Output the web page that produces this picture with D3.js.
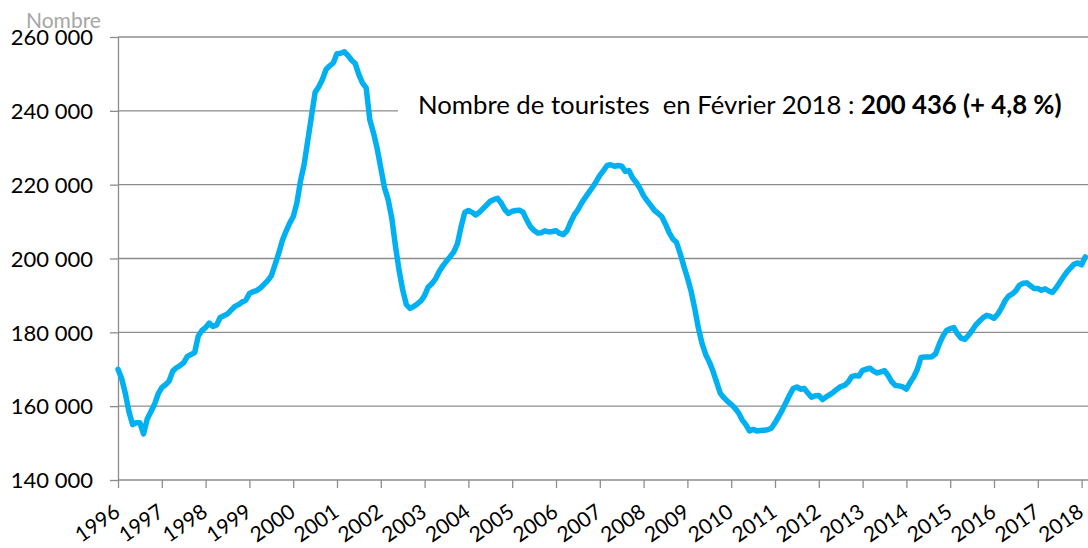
<!DOCTYPE html>
<html>
<head>
<meta charset="utf-8">
<script src="https://cdn.jsdelivr.net/npm/d3@7"></script>
<style>
body{margin:0;background:#fff}
svg{display:block}
text{font-family:Lato,"Open Sans",sans-serif}
</style>
</head>
<body>
<svg id="chart" width="1088" height="548"></svg>
<script>
// x ticks: one label per January
const yearLabels = ["1996","1997","1998","1999","2000","2001","2002","2003","2004","2005","2006",
                    "2007","2008","2009","2010","2011","2012","2013","2014","2015","2016","2017","2018"];
const yTicks = [140000,160000,180000,200000,220000,240000,260000];

// monthly tourists, Jan 1996 -> Feb 2018 (one row per year)
const touristes = [
  170000,167500,163500,158500,155000,155500,155500,152500,156500,158500,160500,163300, // 1996
  165000,165800,166800,169500,170400,171000,171800,173500,174000,174500,179000,180500, // 1997
  181300,182500,181600,182000,184000,184500,185000,186000,187000,187500,188200,188700, // 1998
  190500,191000,191300,192000,193000,194000,195300,198300,201300,204800,207300,209500, // 1999
  211300,215000,221000,225500,232000,238500,245000,246500,248500,251200,252200,253000, // 2000
  255500,255600,256000,255000,253700,252800,249800,247500,246200,237500,234000,229800, // 2001
  224500,219200,216000,211000,203500,196800,191500,187500,186500,187000,187700,188500, // 2002
  190000,192300,193200,194500,196500,198000,199300,200500,201800,204000,208600,212500, // 2003
  213000,212500,211800,212500,213500,214500,215500,216000,216300,215000,213200,212200, // 2004
  212800,213000,213100,212500,210400,208600,207600,206900,207000,207500,207200,207300, // 2005
  207500,206800,206500,207500,209800,211800,213200,215000,216500,217900,219300,220800, // 2006
  222500,223800,225200,225400,225000,225200,225000,223600,223800,221800,220600,219000, // 2007
  217000,215600,214300,213000,212200,211300,209300,207000,205300,204400,201400,198000, // 2008
  194800,191200,186500,181200,177000,174000,172000,169500,166500,163500,162300,161300, // 2009
  160500,159500,158200,156300,155000,153300,153700,153300,153400,153500,153600,154000, // 2010
  155500,157200,159000,161000,163000,164800,165200,164600,164800,163600,162400,162800, // 2011
  162900,161800,162500,163100,163800,164600,165300,165600,166500,168000,168300,168200, // 2012
  169700,170000,170300,169500,169000,169300,169600,168300,166600,165600,165500,165200, // 2013
  164600,166400,167900,170000,173200,173300,173300,173400,174200,176800,179000,180500, // 2014
  181000,181300,179600,178400,178100,179200,180500,182000,183000,184000,184600,184300, // 2015
  183800,184900,186500,188500,189800,190400,191300,192800,193300,193400,192600,191900, // 2016
  191900,191400,191800,191200,190800,192000,193500,195000,196400,197500,198500,198800, // 2017
  198300,200436                                                                        // 2018
];

const annotationText = "Nombre de touristes  en Février 2018 : ";
const annotationValue = "200 436 (+ 4,8 %)";

const svg = d3.select("#chart");
const plotLeft = 118, plotRight = 1088, plotTop = 37, plotBottom = 480;

const x = d3.scaleLinear().domain([0, touristes.length - 1])
  .range([plotLeft, plotLeft + 3.65 * (touristes.length - 1)]);
const y = d3.scaleLinear().domain([140000, 260000]).range([plotBottom, plotTop]);

const fr = d3.formatLocale({decimal: ",", thousands: " ", grouping: [3], currency: ["", ""]});
const fmt = fr.format(",");

// gridlines
svg.append("g")
  .selectAll("line")
  .data(yTicks)
  .enter()
  .append("line")
  .attr("x1", plotLeft)
  .attr("x2", plotRight)
  .attr("y1", d => y(d))
  .attr("y2", d => y(d))
  .style("stroke", "#8c8c8c")
  .style("stroke-width", 1.3);

// y axis
const yAxis = svg.append("g")
  .attr("transform", "translate(" + plotLeft + ",0)")
  .call(d3.axisLeft(y).tickValues(yTicks).tickSize(8).tickSizeOuter(0).tickFormat(fmt));
yAxis.select(".domain").style("stroke", "#8c8c8c").style("stroke-width", 1.3);
yAxis.selectAll(".tick line").style("stroke", "#8c8c8c").style("stroke-width", 1.3);
yAxis.selectAll(".tick text")
  .attr("x", -25)
  .attr("dy", "0.35em")
  .style("font-size", "22px")
  .style("fill", "#000");

// x axis
const xAxis = svg.append("g")
  .attr("transform", "translate(0," + plotBottom + ")")
  .call(d3.axisBottom(x).tickValues(d3.range(0, touristes.length, 12)).tickSize(8).tickSizeOuter(0)
        .tickFormat((d, i) => yearLabels[i]));
xAxis.select(".domain").remove();
xAxis.selectAll(".tick line").style("stroke", "#8c8c8c").style("stroke-width", 1.3);
xAxis.selectAll(".tick text")
  .attr("x", 0)
  .attr("y", 0)
  .attr("dy", 0)
  .attr("transform", "translate(3,35) rotate(-35)")
  .style("text-anchor", "end")
  .style("font-size", "21px")
  .style("fill", "#000");

// "Nombre" unit label
svg.append("text")
  .attr("x", 26)
  .attr("y", 28)
  .style("font-size", "21px")
  .style("fill", "#a6a6a6")
  .text("Nombre");

// annotation box
svg.append("rect")
  .attr("x", 398)
  .attr("y", 93)
  .attr("width", plotRight - 398)
  .attr("height", 32)
  .style("fill", "#fff");

const note = svg.append("text")
  .attr("x", 418)
  .attr("y", 113.5)
  .style("font-size", "24px")
  .style("white-space", "pre")
  .style("fill", "#000");
note.append("tspan").text(annotationText);
note.append("tspan").style("font-weight", "bold").text(annotationValue);
let len = note.node().getComputedTextLength();
note.style("font-size", (24 * 644 / len) + "px");

// series
const line = d3.line()
  .x((d, i) => x(i))
  .y(d => y(d));

svg.append("path")
  .datum(touristes)
  .attr("d", line)
  .style("fill", "none")
  .style("stroke", "#00b0f0")
  .style("stroke-width", 5.5)
  .style("stroke-linejoin", "round")
  .style("stroke-linecap", "round");
</script>
</body>
</html>
